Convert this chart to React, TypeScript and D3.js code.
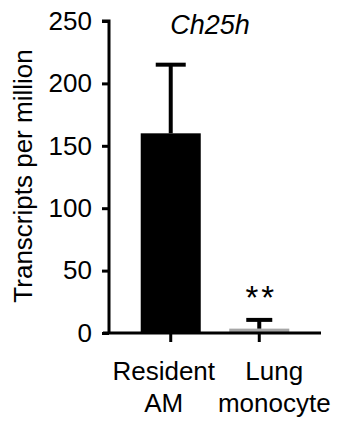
import * as d3 from 'd3';
import { useEffect, useRef } from 'react';

const categories = ['Resident AM', 'Lung monocyte'];
const labelLines = [['Resident', 'AM'], ['Lung', 'monocyte']];
const means = [160, 3.5];
const errors = [55, 7];
const barColors = ['#000000', '#a6a6a6'];
const yTicks = [0, 50, 100, 150, 200, 250];
const stars = ['', '**'];

const App = (): React.ReactElement => {
  const ref: any = useRef();
  const width = 339;
  const height = 423;
  const font = "Arial, 'Liberation Sans', sans-serif";

  useEffect(() => {
    const svg = d3.select(ref.current);
    svg.selectAll('*').remove();

    const yScale = d3.scaleLinear().domain([0, 250]).range([333, 21]);
    const xScale = d3
      .scaleBand()
      .domain(categories)
      .range([127, 303])
      .paddingInner(0.322)
      .paddingOuter(0.155);

    // bars
    svg
      .append('g')
      .selectAll('rect')
      .data(categories)
      .enter()
      .append('rect')
      .attr('x', (d) => xScale(d) ?? 0)
      .attr('y', (d, i) => yScale(means[i]))
      .attr('width', xScale.bandwidth())
      .attr('height', (d, i) => yScale(0) - yScale(means[i]))
      .attr('fill', (d, i) => barColors[i]);

    // error bars
    const eb = svg.append('g').attr('stroke', '#000').attr('stroke-width', 4);
    categories.forEach((c, i) => {
      const cx = (xScale(c) ?? 0) + xScale.bandwidth() / 2;
      const half = i === 0 ? 15 : 13;
      eb.append('line')
        .attr('x1', cx)
        .attr('x2', cx)
        .attr('y1', yScale(means[i]))
        .attr('y2', yScale(means[i] + errors[i]));
      eb.append('line')
        .attr('x1', cx - half)
        .attr('x2', cx + half)
        .attr('y1', yScale(means[i] + errors[i]))
        .attr('y2', yScale(means[i] + errors[i]));
    });

    // y axis
    const yAxis = svg
      .append('g')
      .attr('transform', 'translate(109,0)')
      .call(d3.axisLeft(yScale).tickValues(yTicks).tickSize(7).tickPadding(10));
    yAxis.select('.domain').attr('stroke-width', 3).attr('d', `M-7,${yScale(250)}H0V${yScale(0)}`);
    yAxis.selectAll('.tick line').attr('stroke-width', 3);
    yAxis.selectAll('.tick text').attr('font-size', 26).attr('font-family', font).attr('fill', '#000');

    // x axis
    const xAxis = svg
      .append('g')
      .attr('transform', `translate(0,${yScale(0)})`)
      .call(d3.axisBottom(xScale).tickSize(9).tickFormat(() => ''));
    xAxis.select('.domain').attr('stroke-width', 3).attr('d', 'M103,0H321');
    xAxis.selectAll('.tick line').attr('stroke-width', 3);

    categories.forEach((c, i) => {
      const cx = (xScale(c) ?? 0) + xScale.bandwidth() / 2;
      labelLines[i].forEach((line, j) => {
        svg
          .append('text')
          .attr('x', cx + (i === 0 ? -7 : 15))
          .attr('y', 380 + j * 32)
          .attr('text-anchor', 'middle')
          .attr('font-size', 26)
          .attr('font-family', font)
          .text(line);
      });
      if (stars[i]) {
        svg
          .append('text')
          .attr('x', cx + 2)
          .attr('y', 309)
          .attr('text-anchor', 'middle')
          .attr('font-size', 33)
          .attr('font-family', font)
          .attr('letter-spacing', 3)
          .text(stars[i]);
      }
    });

    // title
    svg
      .append('text')
      .attr('x', 210)
      .attr('y', 34)
      .attr('text-anchor', 'middle')
      .attr('font-size', 27)
      .attr('font-style', 'italic')
      .attr('font-family', font)
      .text('Ch25h');

    // y label
    svg
      .append('text')
      .attr('transform', 'translate(32,176) rotate(-90)')
      .attr('text-anchor', 'middle')
      .attr('font-size', 26)
      .attr('font-family', font)
      .text('Transcripts per million');
  }, []);

  return (
    <svg
      ref={ref}
      width={width}
      height={height}
      style={{ position: 'absolute', left: 0, top: 0, background: '#fff' }}
    />
  );
};

export default App;
